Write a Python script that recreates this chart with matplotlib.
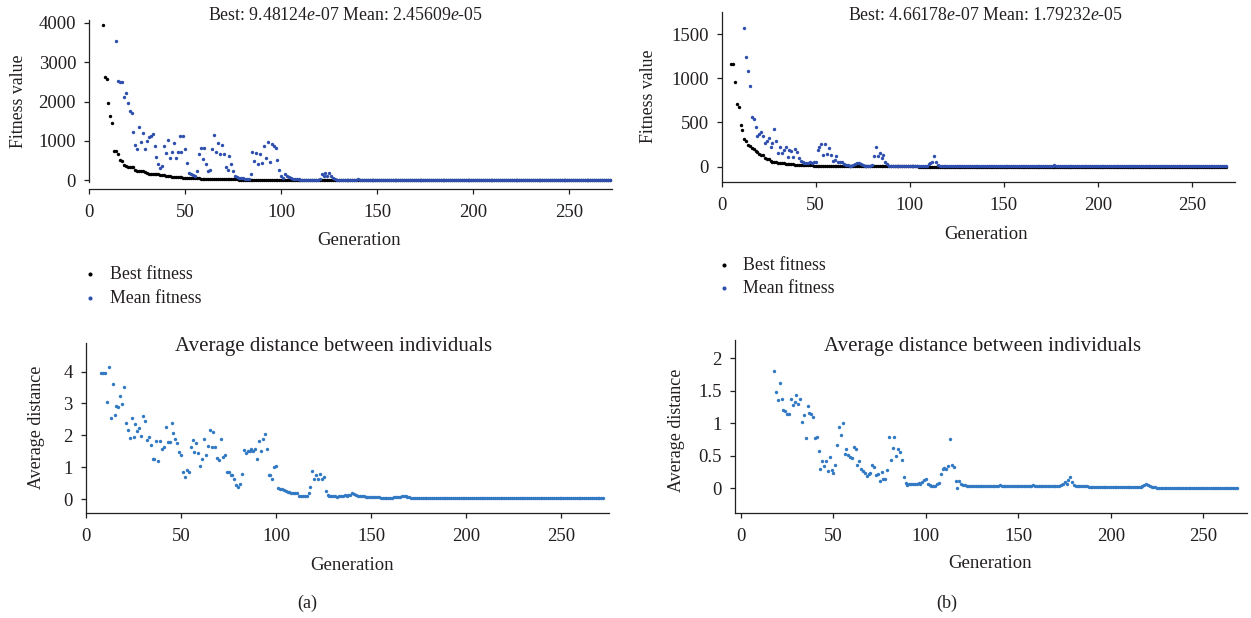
import numpy as np
import matplotlib
matplotlib.use("Agg")
import matplotlib.pyplot as plt

plt.rcParams['font.family'] = ['Liberation Serif', 'DejaVu Serif']
plt.rcParams['mathtext.fontset'] = 'custom'
plt.rcParams['mathtext.rm'] = 'Liberation Serif'
plt.rcParams['mathtext.it'] = 'Liberation Serif:italic'

# ---- (a) fitness, first generation shown = 7 (best), 14 (mean)
best_a_start = 7
best_a = [
    3950, 2620, 2570, 1960, 1640, 1460, 745, 735, 680, 525,
    500, 400, 370, 345, 335, 335, 330, 250, 235, 230,
    230, 225, 205, 180, 165, 160, 160, 155, 150, 150,
    145, 140, 130, 120, 110, 100, 95, 90, 85, 80,
    75, 72, 70, 66, 62, 58, 55, 52, 50, 48,
    46, 44, 42, 40, 38, 36, 35, 34, 33, 32,
    31, 30, 29, 28, 27, 26, 25, 24, 23, 22,
    21, 20, 19, 18, 17, 16, 15, 15, 14, 14,
    13, 13, 12, 12, 11, 11, 10, 10, 9, 9,
    8, 8, 7, 7, 6, 6, 6, 5, 5, 5,
    5, 4, 4, 4, 4, 4, 3, 3, 3, 3,
    3, 3, 2, 2, 2, 2, 2, 2, 2, 2,
    2, 2, 2, 2, 2, 2, 2, 2, 1, 1,
    1, 1, 1, 1, 1, 1, 1, 1, 1, 1,
    1, 1, 1, 1, 1, 1, 1, 1, 1, 1,
    1, 1, 1, 1, 1, 1, 1, 1, 1, 1,
    1, 1, 1, 1, 1, 1, 1, 1, 1, 1,
    1, 1, 1, 1, 1, 1, 1, 1, 1, 1,
    1, 1, 1, 1, 1, 1, 1, 1, 1, 1,
    1, 1, 1, 1, 1, 1, 1, 1, 1, 1,
    1, 1, 1, 1, 1, 1, 1, 1, 1, 1,
    1, 1, 1, 1, 1, 1, 1, 1, 1, 1,
    1, 1, 1, 1, 1, 1, 1, 1, 1, 1,
    1, 1, 1, 1, 1, 1, 1, 1, 1, 1,
    1, 1, 1, 1, 1, 1, 1, 1, 1, 1,
    1, 1, 1, 1, 1, 1, 1, 1, 1, 1,
    1, 1, 1, 1, 1,
]
mean_a_start = 14
mean_a = [
    3540, 2510, 2490, 2500, 2120, 2220, 1950, 1750, 1700, 1220,
    890, 800, 1360, 965, 1190, 790, 990, 1090, 1130, 1175,
    870, 585, 420, 310, 365, 880, 685, 1015, 560, 725,
    955, 560, 710, 1125, 725, 1135, 800, 430, 195, 170,
    135, 110, 230, 675, 815, 550, 815, 415, 230, 270,
    795, 1140, 725, 940, 660, 895, 660, 345, 270, 615,
    415, 230, 110, 75, 65, 55, 50, 45, 40, 40,
    160, 725, 500, 700, 420, 660, 430, 860, 560, 960,
    460, 930, 880, 820, 520, 270, 110, 60, 150, 110,
    80, 60, 45, 35, 30, 25, 20, 18, 16, 15,
    14, 13, 12, 12, 11, 15, 40, 160, 110, 180,
    100, 190, 120, 70, 30, 15, 12, 10, 10, 9,
    9, 9, 10, 12, 15, 20, 25, 18, 12, 10,
    9, 8, 8, 8, 7, 7, 7, 7, 6, 6,
    6, 6, 6, 6, 6, 6, 5, 5, 5, 5,
    5, 5, 5, 5, 5, 5, 5, 5, 5, 5,
    5, 5, 5, 5, 5, 5, 5, 5, 5, 5,
    4, 4, 4, 4, 4, 4, 4, 4, 4, 4,
    4, 4, 4, 4, 4, 4, 4, 4, 4, 4,
    4, 4, 4, 4, 4, 4, 4, 4, 4, 4,
    4, 4, 4, 4, 4, 4, 4, 4, 4, 4,
    3, 3, 3, 3, 3, 3, 3, 3, 3, 3,
    3, 3, 3, 3, 3, 3, 3, 3, 3, 3,
    3, 3, 3, 3, 3, 3, 3, 3, 3, 3,
    3, 3, 3, 3, 3, 3, 3, 3, 3, 3,
    3, 3, 3, 3, 3, 3, 3, 3,
]

# ---- (b) fitness
best_b_start = 5
best_b = [
    1160, 1160, 960, 710, 670, 470, 420, 310, 295, 245,
    237, 208, 197, 178, 166, 144, 136, 132, 95, 91,
    87, 64, 57, 53, 50, 46, 44, 40, 38, 35,
    32, 30, 28, 26, 24, 22, 20, 19, 18, 17,
    16, 15, 14, 14, 13, 12, 12, 11, 11, 10,
    10, 9, 9, 8, 8, 8, 7, 7, 7, 6,
    6, 6, 6, 5, 5, 5, 5, 5, 4, 4,
    4, 4, 4, 4, 3, 3, 3, 3, 3, 3,
    3, 3, 3, 3, 3, 3, 3, 3, 3, 3,
    3, 3, 3, 3, 3, 3, 3, 3, 3, 3,
    2, 2, 2, 2, 2, 2, 2, 2, 2, 2,
    2, 2, 2, 2, 2, 2, 2, 2, 2, 2,
    2, 2, 2, 2, 2, 2, 2, 2, 2, 2,
    2, 2, 2, 2, 2, 2, 2, 2, 2, 2,
    2, 2, 2, 2, 2, 2, 2, 2, 2, 2,
    1, 1, 1, 1, 1, 1, 1, 1, 1, 1,
    1, 1, 1, 1, 1, 1, 1, 1, 1, 1,
    1, 1, 1, 1, 1, 1, 1, 1, 1, 1,
    1, 1, 1, 1, 1, 1, 1, 1, 1, 1,
    1, 1, 1, 1, 1, 1, 1, 1, 1, 1,
    1, 1, 1, 1, 1, 1, 1, 1, 1, 1,
    1, 1, 1, 1, 1, 1, 1, 1, 1, 1,
    1, 1, 1, 1, 1, 1, 1, 1, 1, 1,
    1, 1, 1, 1, 1, 1, 1, 1, 1, 1,
    1, 1, 1, 1, 1, 1, 1, 1, 1, 1,
    1, 1, 1, 1, 1, 1, 1, 1, 1, 1,
    1, 1, 1, 1,
]
mean_b_start = 12
mean_b = [
    1565, 1240, 1080, 915, 560, 535, 445, 350, 365, 390,
    350, 265, 295, 330, 220, 265, 430, 295, 160, 220,
    150, 185, 225, 105, 185, 180, 110, 205, 165, 95,
    60, 55, 40, 42, 42, 48, 42, 48, 55, 190,
    225, 255, 130, 260, 145, 210, 130, 60, 80, 120,
    55, 50, 55, 30, 20, 15, 12, 10, 15, 30,
    40, 45, 25, 15, 10, 10, 8, 10, 15, 120,
    220, 120, 160, 95, 130, 55, 35, 10, 8, 6,
    5, 5, 5, 5, 4, 4, 4, 4, 4, 4,
    4, 4, 4, 4, 4, 4, 5, 8, 35, 40,
    55, 120, 55, 20, 10, 6, 4, 4, 4, 4,
    4, 4, 4, 3, 3, 3, 3, 3, 3, 3,
    3, 3, 3, 3, 3, 3, 3, 3, 3, 3,
    3, 3, 3, 3, 3, 3, 3, 3, 3, 3,
    3, 3, 3, 3, 3, 3, 3, 3, 3, 3,
    3, 3, 3, 3, 3, 3, 3, 3, 3, 3,
    3, 3, 3, 3, 10, 18, 10, 4, 3, 3,
    3, 3, 3, 3, 3, 3, 3, 3, 3, 3,
    3, 3, 3, 3, 3, 3, 3, 3, 3, 3,
    3, 3, 3, 3, 3, 3, 3, 3, 3, 3,
    3, 3, 3, 3, 3, 3, 3, 3, 3, 3,
    3, 3, 3, 3, 3, 3, 3, 3, 3, 3,
    3, 3, 3, 3, 3, 3, 3, 3, 3, 3,
    3, 3, 3, 3, 3, 3, 3, 3, 3, 3,
    3, 3, 3, 3, 3, 3, 3, 3, 3, 3,
    3, 3, 3, 3, 3, 3, 3,
]

# ---- average distance between individuals
dist_a_start = 8
dist_a = [
    3.96, 3.96, 3.97, 3.05, 4.16, 2.56, 3.62, 2.64, 2.92, 2.90,
    3.22, 2.99, 3.51, 2.38, 2.16, 1.93, 2.53, 1.96, 2.36, 2.14,
    2.24, 1.97, 2.61, 2.45, 1.86, 1.96, 1.69, 1.26, 1.27, 1.83,
    1.19, 1.81, 1.57, 1.63, 2.26, 1.80, 1.78, 2.39, 2.06, 1.88,
    1.75, 1.47, 1.37, 0.85, 0.70, 0.92, 0.86, 1.64, 1.86, 1.49,
    1.75, 1.44, 1.04, 1.26, 1.88, 1.39, 1.67, 2.16, 1.63, 2.11,
    1.62, 1.30, 1.23, 1.89, 1.33, 1.39, 0.86, 0.86, 0.74, 0.74,
    0.64, 0.43, 0.38, 0.46, 0.77, 1.53, 1.44, 1.50, 1.50, 1.57,
    1.52, 1.56, 1.26, 1.83, 1.52, 1.89, 2.03, 1.57, 0.74, 0.74,
    0.62, 1.02, 1.05, 0.35, 0.33, 0.32, 0.27, 0.25, 0.23, 0.22,
    0.20, 0.20, 0.19, 0.18, 0.08, 0.09, 0.09, 0.10, 0.10, 0.18,
    0.38, 0.88, 0.62, 0.76, 0.62, 0.79, 0.62, 0.69, 0.24, 0.14,
    0.11, 0.10, 0.09, 0.09, 0.07, 0.10, 0.10, 0.11, 0.12, 0.11,
    0.13, 0.14, 0.18, 0.15, 0.12, 0.10, 0.09, 0.08, 0.08, 0.07,
    0.07, 0.06, 0.06, 0.05, 0.05, 0.05, 0.05, 0.04, 0.04, 0.04,
    0.04, 0.04, 0.04, 0.04, 0.05, 0.05, 0.06, 0.07, 0.09, 0.10,
    0.08, 0.06, 0.05, 0.04, 0.04, 0.04, 0.04, 0.03, 0.03, 0.03,
    0.03, 0.03, 0.03, 0.03, 0.03, 0.03, 0.03, 0.03, 0.03, 0.03,
    0.03, 0.03, 0.03, 0.03, 0.03, 0.03, 0.03, 0.03, 0.03, 0.03,
    0.02, 0.02, 0.02, 0.02, 0.02, 0.02, 0.02, 0.02, 0.02, 0.02,
    0.02, 0.02, 0.02, 0.02, 0.02, 0.02, 0.02, 0.02, 0.02, 0.02,
    0.02, 0.02, 0.02, 0.02, 0.02, 0.02, 0.02, 0.02, 0.02, 0.02,
    0.02, 0.02, 0.02, 0.02, 0.02, 0.02, 0.02, 0.02, 0.02, 0.02,
    0.02, 0.02, 0.02, 0.02, 0.02, 0.02, 0.02, 0.02, 0.02, 0.02,
    0.02, 0.02, 0.02, 0.02, 0.02, 0.02, 0.02, 0.02, 0.02, 0.02,
    0.02, 0.02, 0.02, 0.02, 0.02, 0.02, 0.02, 0.02, 0.02, 0.02,
    0.02, 0.02, 0.02, 0.02, 0.02,
]
dist_b_start = 18
dist_b = [
    1.81, 1.48, 1.35, 1.62, 1.38, 1.20, 1.19, 1.14, 1.14, 1.37,
    1.28, 1.33, 1.44, 1.29, 1.37, 1.02, 1.12, 0.77, 1.26, 1.16,
    1.14, 1.10, 0.77, 0.79, 0.58, 0.29, 0.42, 0.34, 0.42, 0.26,
    0.48, 0.28, 0.23, 0.36, 0.67, 0.95, 0.82, 1.00, 0.53, 0.60,
    0.51, 0.48, 0.46, 0.64, 0.61, 0.36, 0.42, 0.29, 0.27, 0.24,
    0.19, 0.22, 0.24, 0.36, 0.33, 0.20, 0.22, 0.12, 0.25, 0.15,
    0.14, 0.28, 0.79, 0.43, 0.62, 0.79, 0.50, 0.60, 0.56, 0.43,
    0.18, 0.08, 0.05, 0.06, 0.07, 0.06, 0.07, 0.07, 0.08, 0.07,
    0.09, 0.13, 0.14, 0.07, 0.05, 0.03, 0.03, 0.04, 0.06, 0.08,
    0.22, 0.30, 0.31, 0.30, 0.34, 0.76, 0.36, 0.33, 0.11, 0.01,
    0.11, 0.06, 0.05, 0.05, 0.04, 0.04, 0.04, 0.04, 0.04, 0.04,
    0.04, 0.04, 0.04, 0.03, 0.03, 0.03, 0.03, 0.04, 0.04, 0.04,
    0.04, 0.04, 0.05, 0.04, 0.04, 0.04, 0.03, 0.03, 0.03, 0.03,
    0.03, 0.03, 0.03, 0.04, 0.04, 0.04, 0.03, 0.03, 0.04, 0.04,
    0.05, 0.04, 0.03, 0.03, 0.03, 0.03, 0.03, 0.04, 0.03, 0.03,
    0.03, 0.03, 0.03, 0.03, 0.04, 0.05, 0.07,
    0.10, 0.07, 0.13, 0.18, 0.10, 0.05, 0.03, 0.03, 0.03, 0.03,
    0.03, 0.03, 0.03, 0.02, 0.02, 0.02, 0.02, 0.02, 0.02, 0.02,
    0.02, 0.02, 0.02, 0.02, 0.02, 0.02, 0.02, 0.02, 0.02, 0.02,
    0.02, 0.02, 0.02, 0.02, 0.02, 0.02, 0.02, 0.02, 0.02, 0.02,
    0.02, 0.02, 0.03, 0.05, 0.07, 0.05, 0.03,
    0.02, 0.02, 0.02, 0.01, 0.01, 0.01, 0.01, 0.01, 0.01, 0.01,
    0.01, 0.01, 0.01, 0.01, 0.01, 0.01, 0.01, 0.01, 0.01, 0.01,
    0.01, 0.01, 0.01, 0.01, 0.01, 0.01, 0.01, 0.01, 0.01, 0.01,
    0.01, 0.01, 0.01, 0.01, 0.01, 0.01, 0.01, 0.01, 0.01, 0.01,
    0.01, 0.01, 0.01, 0.01, 0.01, 0.01, 0.01,
]

titles_top = [r"Best: 9.48124$\mathit{e}$-07 Mean: 2.45609$\mathit{e}$-05",
              r"Best: 4.66178$\mathit{e}$-07 Mean: 1.79232$\mathit{e}$-05"]
title_bottom = "Average distance between individuals"

TXT = '#231f20'
BLUE_FIT = '#2f4fae'
BLUE_DIST = '#3279c4'
W, H = 1251, 618
DOT = 6


def gens(start, vals):
    return np.arange(start, start + len(vals))


def style(ax, xlim, ylim, yticks, yticklabels=None):
    ax.set_xlim(*xlim)
    ax.set_ylim(*ylim)
    ax.set_xticks([0, 50, 100, 150, 200, 250])
    ax.set_yticks(yticks)
    if yticklabels is not None:
        ax.set_yticklabels(yticklabels)
    for s in ['top', 'right']:
        ax.spines[s].set_visible(False)
    for s in ['left', 'bottom']:
        ax.spines[s].set_color(TXT)
        ax.spines[s].set_linewidth(0.9)
    ax.tick_params(direction='out', length=3.5, width=0.9, color=TXT,
                   labelcolor=TXT, labelsize=13.5)
    ax.tick_params(axis='x', pad=7.5)
    ax.tick_params(axis='y', pad=6)
    ax.patch.set_alpha(0)


def px_axes(left, top, right, bottom):
    return [left / W, 1 - bottom / H, (right - left) / W, (bottom - top) / H]


fig = plt.figure(figsize=(12.51, 6.18), dpi=100)

# (a) fitness
ax1 = fig.add_axes(px_axes(89.3, 20, 611.5, 189))
ax1.scatter(gens(best_a_start, best_a), best_a, s=DOT, color='black', linewidths=0,
            label='Best fitness', zorder=2)
ax1.scatter(gens(mean_a_start, mean_a), mean_a, s=DOT, color=BLUE_FIT, linewidths=0,
            label='Mean fitness', zorder=3)
style(ax1, (0, 272), (-221, 4070), [0, 1000, 2000, 3000, 4000])
ax1.spines['left'].set_bounds(-50, 4070)
ax1.legend(loc='upper left', bbox_to_anchor=(84.7 / W, 1 - 266 / H),
           bbox_transform=fig.transFigure, frameon=False, borderpad=0,
           borderaxespad=0, handlelength=0.6, handletextpad=0.8,
           labelspacing=0.38, fontsize=12.8, labelcolor=TXT, markerscale=1.2)

# (b) fitness
ax2 = fig.add_axes(px_axes(721.7, 11.7, 1235, 182))
ax2.scatter(gens(best_b_start, best_b), best_b, s=DOT, color='black', linewidths=0,
            label='Best fitness', zorder=2)
ax2.scatter(gens(mean_b_start, mean_b), mean_b, s=DOT, color=BLUE_FIT, linewidths=0,
            label='Mean fitness', zorder=3)
style(ax2, (0, 273), (-173, 1753), [0, 500, 1000, 1500])
ax2.legend(loc='upper left', bbox_to_anchor=(718.7 / W, 1 - 257 / H),
           bbox_transform=fig.transFigure, frameon=False, borderpad=0,
           borderaxespad=0, handlelength=0.6, handletextpad=0.75,
           labelspacing=0.33, fontsize=12.8, labelcolor=TXT, markerscale=1.2)

# (a) distance
ax3 = fig.add_axes(px_axes(86, 343, 609, 512.7))
ax3.scatter(gens(dist_a_start, dist_a), dist_a, s=DOT, color=BLUE_DIST, linewidths=0)
style(ax3, (0, 275), (-0.43, 4.9), [0, 1, 2, 3, 4])

# (b) distance
ax4 = fig.add_axes(px_axes(735, 340, 1246.7, 512.7))
ax4.scatter(gens(dist_b_start, dist_b), dist_b, s=DOT, color=BLUE_DIST, linewidths=0)
style(ax4, (-3.2, 273.4), (-0.375, 2.28), [0, 0.5, 1, 1.5, 2],
      ['0', '0.5', '1', '1.5', '2'])


def ftext(x, y, s, **kw):
    fig.text(x / W, 1 - y / H, s, ha='center', va='center', color=TXT, **kw)


ftext(345, 15, titles_top[0], fontsize=12.8)
ftext(985, 15, titles_top[1], fontsize=12.8)
ftext(334, 346, title_bottom, fontsize=15)
ftext(983, 346, title_bottom, fontsize=15)

ftext(18.5, 101.7, 'Fitness value', fontsize=12.8, rotation=90)
ftext(648.5, 96.7, 'Fitness value', fontsize=12.8, rotation=90)
ftext(36.7, 427.5, 'Average distance', fontsize=13, rotation=90)
ftext(676.7, 430, 'Average distance', fontsize=13, rotation=90)

ftext(359, 240, 'Generation', fontsize=13.5)
ftext(986, 234, 'Generation', fontsize=13.5)
ftext(352, 565, 'Generation', fontsize=13.5)
ftext(990, 564, 'Generation', fontsize=13.5)

ftext(307, 603, '(a)', fontsize=13)
ftext(947, 603, '(b)', fontsize=13)

fig.savefig('out.png', dpi=100, facecolor='white')
